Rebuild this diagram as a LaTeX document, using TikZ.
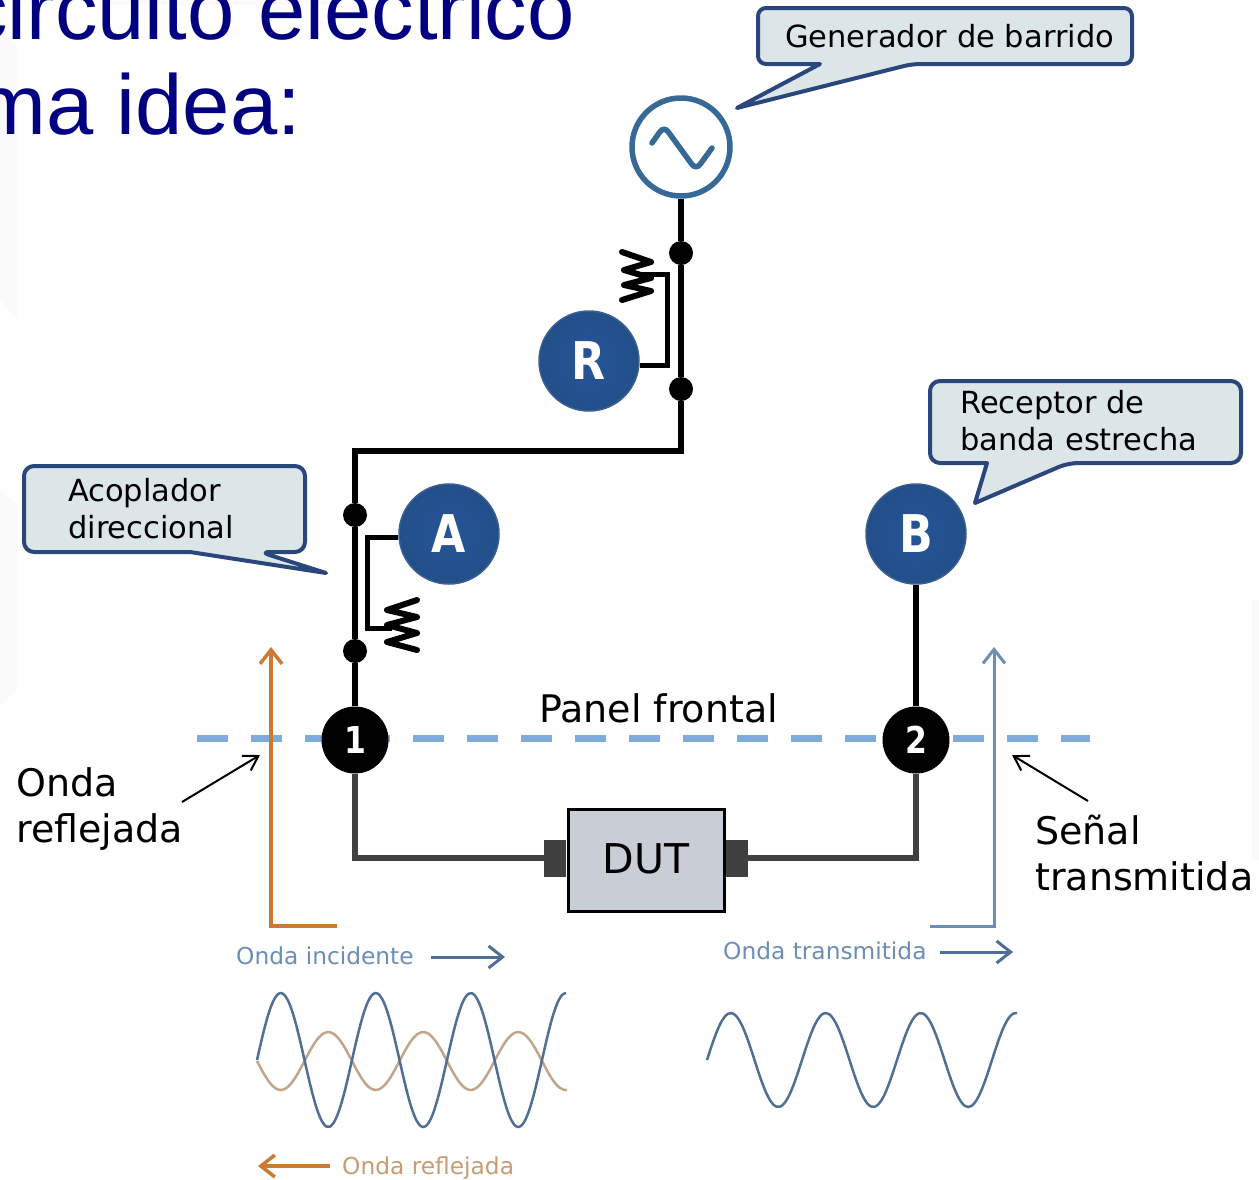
\documentclass[tikz,border=0pt]{standalone}
\usepackage{fontspec}
\setmainfont{DejaVu Sans}
\newfontfamily\titlefont{Liberation Sans}
\usetikzlibrary{arrows.meta}
\definecolor{titleblue}{RGB}{0,0,128}
\definecolor{meterblue}{RGB}{38,85,150}
\definecolor{calloutfill}{RGB}{220,230,232}
\definecolor{calloutline}{RGB}{42,70,125}
\definecolor{panelblue}{RGB}{125,172,220}
\definecolor{sourceblue}{RGB}{55,105,150}
\definecolor{waveorange}{RGB}{204,122,50}
\definecolor{waveblue}{RGB}{108,142,182}
\definecolor{wavedark}{RGB}{79,111,149}
\definecolor{wavetan}{RGB}{192,166,138}
\definecolor{labelorange}{RGB}{200,155,115}
\definecolor{coaxgray}{RGB}{64,64,64}
\definecolor{dutgray}{RGB}{200,205,214}
\tikzset{
  callout/.style  = {draw=calloutline, fill=calloutfill, line width=4pt, line join=round},
  note/.style     = {anchor=base west, align=left, inner sep=0pt, font=\fontsize{30.5}{37}\selectfont},
  biglabel/.style = {anchor=base west, align=left, inner sep=0pt, font=\fontsize{38}{46}\selectfont},
  small/.style    = {anchor=base west, inner sep=0pt, font=\fontsize{23.3}{28}\selectfont},
  meter/.style    = {circle, minimum size=100pt, inner sep=0pt, inner color=meterblue, outer color=meterblue!92!black, draw=meterblue!75!gray, line width=1.5pt, text=white, font=\fontsize{52}{52}\selectfont\bfseries},
  port/.style     = {circle, minimum size=67pt, inner sep=0pt, fill=black, text=white, font=\fontsize{37}{37}\selectfont\bfseries},
  junction/.style = {circle, minimum size=24pt, inner sep=0pt, fill=black},
  wire/.style     = {line width=6pt, draw=black},
  thinwire/.style = {line width=5pt, draw=black},
  coax/.style     = {line width=5.5pt, draw=coaxgray},
  resistor/.style = {line width=6pt, draw=black, line join=round, line cap=round},
  flowthin/.style = {-{Straight Barb[length=14pt,width=17pt]}, line width=2pt, draw=black},
  orangeflow/.style = {-{Straight Barb[length=14pt,width=22pt]}, line width=3.5pt, draw=waveorange},
  blueflow/.style = {-{Straight Barb[length=14pt,width=22pt]}, line width=3pt, draw=waveblue},
  wave/.style     = {line width=2.5pt, smooth, samples=90},
  faint/.style    = {fill=black!2, draw=none},
}
\newcommand{\narrowmark}[2]{\raisebox{#1}{\scalebox{0.85}[1]{#2}}}
\begin{document}
\begin{tikzpicture}[x=1pt,y=-1pt]
  \clip (0,0) rectangle (1259,1179);
  \fill[faint] (110,0) rectangle (340,5);
  \fill[faint] (0,28) -- (17,47) -- (17,320) -- (0,300) -- cycle;
  \fill[faint] (0,490) -- (17,505) -- (17,690) -- (0,705) -- cycle;
  \fill[faint] (1252,600) rectangle (1259,860);

  \node[anchor=base east, inner sep=0pt, text=titleblue, font=\fontsize{85}{85}\selectfont\titlefont] (titleone) at (575,39) {circuito eléctrico};
  \node[anchor=base west, inner sep=0pt, text=titleblue, font=\fontsize{85}{85}\selectfont\titlefont] (titletwo) at (-25,134) {ma idea:};

  \draw[panelblue, line width=7pt, dash pattern=on 31pt off 23pt] (197,738) -- (1090,738);

  \draw[callout] (800,8) [rounded corners=8pt] -- (1132,8) -- (1132,64) -- (912,64) [sharp corners] -- (737,108) -- (820,64) [rounded corners=8pt] -- (758,64) -- (758,8) -- cycle;
  \draw[callout] (1000,381) [rounded corners=10pt] -- (1241,381) -- (1241,463) -- (1068,463) [sharp corners] -- (975,503) -- (987,463) [rounded corners=10pt] -- (930,463) -- (930,381) -- cycle;
  \draw[callout] (100,466) [rounded corners=10pt] -- (305,466) -- (305,552) -- (260,552) [sharp corners] -- (326,573) -- (190,552) [rounded corners=10pt] -- (24,552) -- (24,466) -- cycle;
  \node[note] (gen) at (785,47) {Generador de barrido};
  \node[note] (rec) at (960,413) {Receptor de};
  \node[note] (banda) at (960,450) {banda estrecha};
  \node[note] (acop) at (68,501) {Acoplador};
  \node[note] (direc) at (68,538) {direccional};

  \node[circle, minimum size=98pt, inner sep=0pt, fill=white, draw=sourceblue, line width=5.5pt] (source) at (681,147) {};
  \draw[sourceblue, line width=5.5pt, line cap=round, rounded corners=7pt] (652,143) -- (664,126) -- (696,170) -- (712,148);

  \node[junction] (jone) at (681,253) {};
  \node[junction] (jtwo) at (681,389) {};
  \node[junction] (jthree) at (355,515) {};
  \node[junction] (jfour) at (355,651) {};
  \node[meter] (R) at (589,361) {\narrowmark{-3pt}{R}};
  \node[meter] (A) at (449,534) {\narrowmark{-3pt}{A}};
  \node[meter] (B) at (916,534) {\narrowmark{-3pt}{B}};
  \node[port] (one) at (355,740) {\narrowmark{-3pt}{1}};
  \node[port] (two) at (916,740) {\narrowmark{-3pt}{2}};
  \node[draw=black, line width=3pt, fill=dutgray, minimum width=156pt, minimum height=102pt, inner sep=0pt, font=\fontsize{41}{41}\selectfont] (dut) at (646,860) {\raisebox{2pt}{DUT}};
  \node[fill=coaxgray, minimum width=22pt, minimum height=37pt, inner sep=0pt, anchor=east] (left) at (dut.west |- 0,858) {};
  \node[fill=coaxgray, minimum width=22pt, minimum height=37pt, inner sep=0pt, anchor=west] (right) at (dut.east |- 0,858) {};

  \draw[wire] (source) -- (jone);
  \draw[wire] (jone) -- (jtwo);
  \draw[wire] (jtwo) |- (355,451) -- (jthree);
  \draw[wire] (jthree) -- (jfour);
  \draw[wire] (jfour) -- (one);
  \draw[wire] (B) -- (two);
  \draw[coax] (one) |- (left);
  \draw[coax] (two) |- (right);

  \draw[thinwire] (R.east |- 0,365) -- (667,365) -- (667,274) -- (637,274);
  \draw[resistor] (622,252) -- (651,262) -- (624,270) -- (651,278) -- (624,285) -- (651,291) -- (622,300);
  \draw[thinwire] (A.west |- 0,537) -- (367,537) -- (367,628) -- (392,628);
  \draw[resistor] (417,600) -- (387,610) -- (417,617) -- (387,625) -- (417,633) -- (387,642) -- (417,650);

  \node[font=\fontsize{38}{38}\selectfont, inner sep=0pt, anchor=base west] (panel) at (539,722) {Panel frontal};
  \node[biglabel] (onda) at (16,796) {Onda};
  \node[biglabel] (reflejada) at (16,842) {reflejada};
  \node[biglabel] (senal) at (1035,844) {Señal};
  \node[biglabel] (transm) at (1035,890) {transmitida};

  \coordinate (leftfrom) at (182,802);
  \coordinate (leftto) at (260,755);
  \coordinate (rightfrom) at (1088,801);
  \coordinate (rightto) at (1012,755);
  \draw[flowthin] (leftfrom) -- (leftto);
  \draw[flowthin] (rightfrom) -- (rightto);

  \draw[orangeflow] (337,926) -- (271,926) -- (271,647);
  \draw[blueflow] (930,926) -- (994,926) -- (994,647);

  \node[small, text=waveblue] (incident) at (236,964) {Onda incidente};
  \node[small, text=waveblue] (transmit) at (723,959) {Onda transmitida};
  \node[small, text=labelorange] (reflect) at (342,1174) {Onda reflejada};
  \draw[blueflow, draw=wavedark] (431,957) -- (505,957);
  \draw[blueflow, draw=wavedark] (940,952) -- (1013,952);
  \draw[orangeflow] (330,1166) -- (258,1166);

  \draw[wave, draw=wavetan, domain=257:567] plot (\x, {1061+29*sin((\x-257)/95*360)});
  \draw[wave, draw=wavedark, domain=257:566] plot (\x, {1060-67*sin((\x-257)/95*360)});
  \draw[wave, draw=wavedark, domain=707:1017] plot (\x, {1060-47*sin((\x-707)/95*360)});
\end{tikzpicture}
\end{document}
